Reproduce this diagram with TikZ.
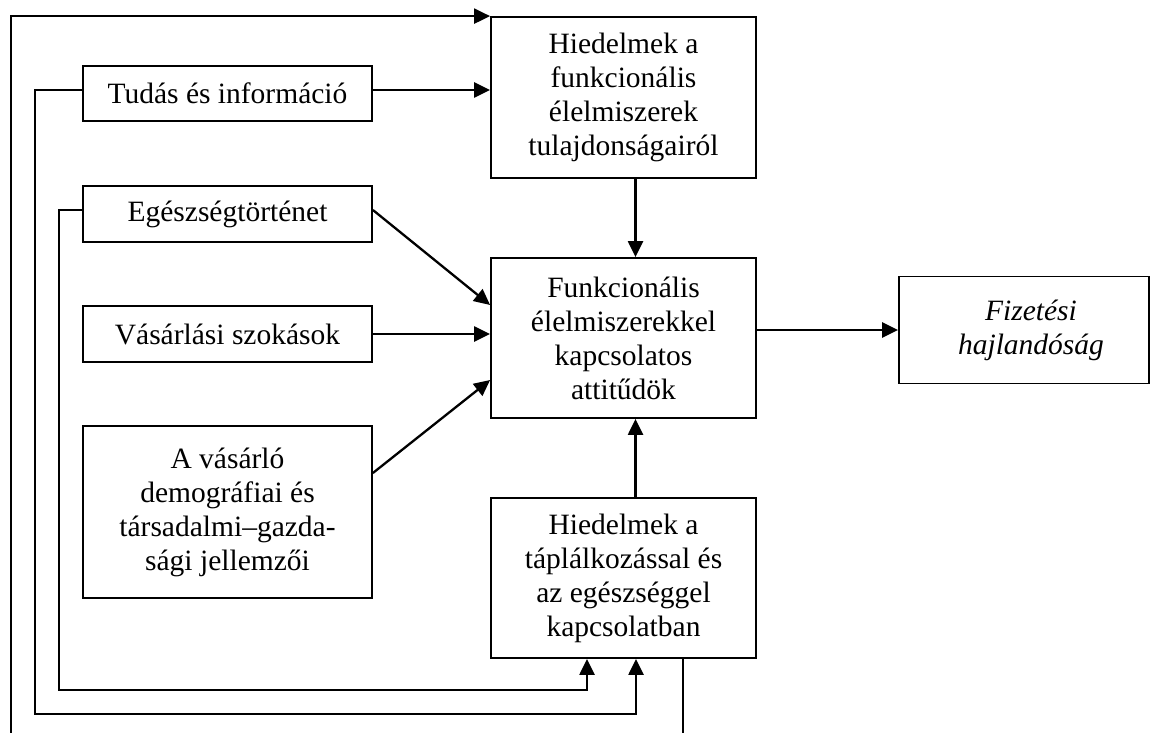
\documentclass[tikz,border=0pt]{standalone}
\usepackage{fontspec}
\setmainfont{Liberation Serif}
\usetikzlibrary{arrows.meta,calc}
\begin{document}
\begin{tikzpicture}[x=1pt,y=-1pt,
  box/.style={draw, line width=1.8pt, align=center, inner sep=0pt,
    font=\fontsize{29.5}{34}\selectfont},
  link/.style={line width=2.3pt},
  arr/.style={line width=2.3pt, -{Triangle[length=16pt,width=15pt]}}]
\useasboundingbox (0,0) rectangle (1151,733);
\fill[white] (0,0) rectangle (1151,733);

% central column
\node[box, minimum width=265pt, minimum height=161pt] (hb) at (623.5,97.5)
  {Hiedelmek a\\funkcionális\\élelmiszerek\\tulajdonságairól};
\node[box, minimum width=265pt, minimum height=160pt] (fa) at (623.5,338)
  {Funkcionális\\élelmiszerekkel\\kapcsolatos\\attitűdök};
\node[box, minimum width=265pt, minimum height=160pt] (hd) at (623.5,578)
  {Hiedelmek a\\táplálkozással és\\az egészséggel\\kapcsolatban};

% left column
\node[box, minimum width=289pt, minimum height=55pt] (tud) at (227.5,93.5)
  {Tudás és információ};
\node[box, minimum width=289pt, minimum height=56pt] (egesz) at (227.5,214)
  {Egészségtörténet};
\node[box, minimum width=289pt, minimum height=56pt] (vas) at (227.5,334)
  {Vásárlási szokások};
\node[box, minimum width=289pt, minimum height=172pt] (demo) at (227.5,512)
  {A vásárló\\demográfiai és\\társadalmi–gazda-\\sági jellemzői};

% outcome
\node[box, minimum width=250pt, minimum height=107pt] (fiz) at (1024,330)
  {\hspace*{14pt}\itshape Fizetési\\\hspace*{14pt}\itshape hajlandóság};

% routing points
\coordinate (outer) at (11,733);
\coordinate (k1) at (59,690);
\coordinate (k2) at (35,714);
\coordinate (drop) at (683,733);
\coordinate (tudE) at ([yshift=3.5pt]tud.east);
\coordinate (tudW) at ([yshift=3.5pt]tud.west);
\coordinate (egW) at ([yshift=4pt]egesz.west);
\coordinate (egE) at ([yshift=4pt]egesz.east);
\coordinate (demE) at ([yshift=39pt]demo.east);
\coordinate (faNW) at ([yshift=33pt]fa.west);
\coordinate (faSW) at ([yshift=-42pt]fa.west);
\coordinate (colA) at ([xshift=12pt]hb.south);
\coordinate (colU) at ([xshift=12pt]hd.north);
\coordinate (colL) at ([xshift=-36.5pt]hd.south);
\coordinate (colR) at ([xshift=12.5pt]hd.south);

% connectors
\draw[arr] (outer) |- (hb.north west);
\draw[arr] (tudE) -- (tudE -| hb.west);
\draw[arr] (colA) -- (colA |- fa.north);
\draw[arr] (egE) -- (faNW);
\draw[arr] (vas.east) -- (vas.east -| fa.west);
\draw[arr] (demE) -- (faSW);
\draw[arr] (colU) -- (colU |- fa.south);
\draw[arr] (fiz.west -| fa.east) -- (fiz.west);
\draw[arr] (egW) -| (k1) -| (colL);
\draw[arr] (tudW) -| (k2) -| (colR);
\draw[link] (drop |- hd.south) -- (drop);
\end{tikzpicture}
\end{document}
